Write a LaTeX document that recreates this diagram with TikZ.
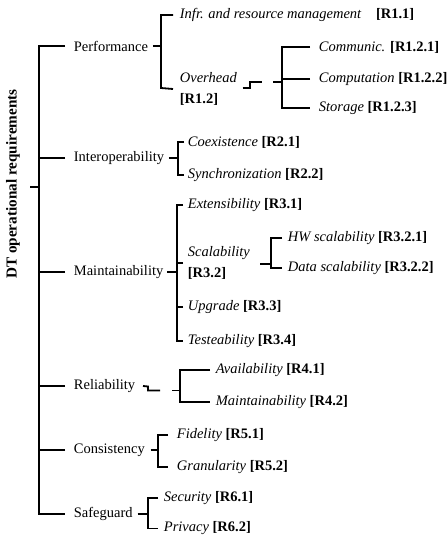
\documentclass[tikz,border=0pt]{standalone}
\usepackage{fontspec}
\setmainfont{Liberation Serif}
\begin{document}
\begin{tikzpicture}[x=1pt,y=-1pt,line width=1.8pt,
  lbl/.style={anchor=west,inner sep=0pt,font=\fontsize{14.5}{21}\selectfont,align=left},
  rootlbl/.style={inner sep=0pt,font=\fontsize{15.2}{17}\selectfont\bfseries,rotate=90}]
\useasboundingbox (0,0) rectangle (447,535);
% root
\node[rootlbl] (root) at (13,184) {DT operational requirements};
\coordinate (rt) at (30,187);
\coordinate (sp) at (39,187);
\draw (rt) -- (sp);
% level 1
\node[lbl] (perf) at (73,46) {Performance};
\node[lbl] (inter) at (73,158) {Interoperability};
\node[lbl] (maint) at (73,272) {Maintainability};
\node[lbl] (rel) at (73,386) {Reliability};
\node[lbl] (cons) at (73,450) {Consistency};
\node[lbl] (safe) at (73,514) {Safeguard};
\draw ([xshift=-8pt]perf.west) -- (39,46) -- (39,514) -- ([xshift=-8pt]safe.west);
\foreach \n in {inter,maint,rel,cons}{\draw ([xshift=-8pt]\n.west) -- (39,0 |- \n.west);}
% Performance
\node[lbl] (infr) at (179,15) {\textit{Infr. and resource management}\quad\textbf{[R1.1]}};
\node[lbl] (over) at (179,89) {\textit{Overhead}\\\textbf{[R1.2]}};
\draw ([xshift=4pt]perf.east) -- (161,46);
\draw ([xshift=-6pt]infr.west) -| (161,88) -- ([xshift=-6pt]over.west);
\node[lbl] (comm) at (318,47) {\textit{Communic.} \textbf{[R1.2.1]}};
\node[lbl] (comp) at (318,79) {\textit{Computation} \textbf{[R1.2.2]}};
\node[lbl] (stor) at (318,108) {\textit{Storage} \textbf{[R1.2.3]}};
\coordinate (os1) at (250,88);
\coordinate (os2) at (262,82);
\coordinate (ob) at (282,82);
\draw ([xshift=5pt]over.east |- os1) -- (os1) |- (os2);
\draw (273,82) -- (ob);
\draw ([xshift=-8pt]comm.west) -| (282,108) -- ([xshift=-8pt]stor.west);
\draw ([xshift=-8pt]comp.west) -- (282,0 |- comp.west);
% Interoperability
\node[lbl] (coex) at (187,142) {\textit{Coexistence} \textbf{[R2.1]}};
\node[lbl] (sync) at (187,175) {\textit{Synchronization} \textbf{[R2.2]}};
\draw ([xshift=4pt]inter.east) -- (178,158);
\draw ([xshift=-3pt]coex.west) -| (178,175) -- ([xshift=-3pt]sync.west);
% Maintainability
\node[lbl] (ext) at (187,205) {\textit{Extensibility} \textbf{[R3.1]}};
\node[lbl] (scal) at (187,263) {\textit{Scalability}\\\textbf{[R3.2]}};
\node[lbl] (upg) at (187,307) {\textit{Upgrade} \textbf{[R3.3]}};
\node[lbl] (test) at (187,341) {\textit{Testeability} \textbf{[R3.4]}};
\draw ([xshift=3pt]maint.east) -- (177,272);
\draw ([xshift=-4pt]ext.west) -| (177,341) -- ([xshift=-4pt]test.west);
\draw ([xshift=-4pt]scal.west) -- (177,263);
\draw ([xshift=-4pt]upg.west) -- (177,307);
\node[lbl] (hw) at (287,238) {\textit{HW scalability} \textbf{[R3.2.1]}};
\node[lbl] (data) at (287,268) {\textit{Data scalability} \textbf{[R3.2.2]}};
\draw (260,264) -- (271,264);
\draw ([xshift=-5pt]hw.west) -| (271,268) -- ([xshift=-5pt]data.west);
% Reliability
\node[lbl] (avail) at (215,370) {\textit{Availability} \textbf{[R4.1]}};
\node[lbl] (rmaint) at (215,402) {\textit{Maintainability} \textbf{[R4.2]}};
\coordinate (rs1) at (148,386.5);
\coordinate (rs2) at (160,390.5);
\draw ([xshift=7pt]rel.east) -- (rs1) |- (rs2);
\draw (172,390.5) -- (180,390.5);
\draw ([xshift=-5pt]avail.west) -| (180,402) -- ([xshift=-5pt]rmaint.west);
% Consistency
\node[lbl] (fid) at (176,435) {\textit{Fidelity} \textbf{[R5.1]}};
\node[lbl] (gran) at (176,467) {\textit{Granularity} \textbf{[R5.2]}};
\draw ([xshift=5pt]cons.east) -- (158,450);
\draw ([xshift=-8pt]fid.west) -| (158,467) -- ([xshift=-8pt]gran.west);
% Safeguard
\node[lbl] (sec) at (163,498) {\textit{Security} \textbf{[R6.1]}};
\node[lbl] (priv) at (163,528.5) {\textit{Privacy} \textbf{[R6.2]}};
\draw ([xshift=4pt]safe.east) -- (148,514);
\draw ([xshift=-5pt]sec.west) -| (148,528.5) -- ([xshift=-5pt]priv.west);
\end{tikzpicture}
\end{document}
